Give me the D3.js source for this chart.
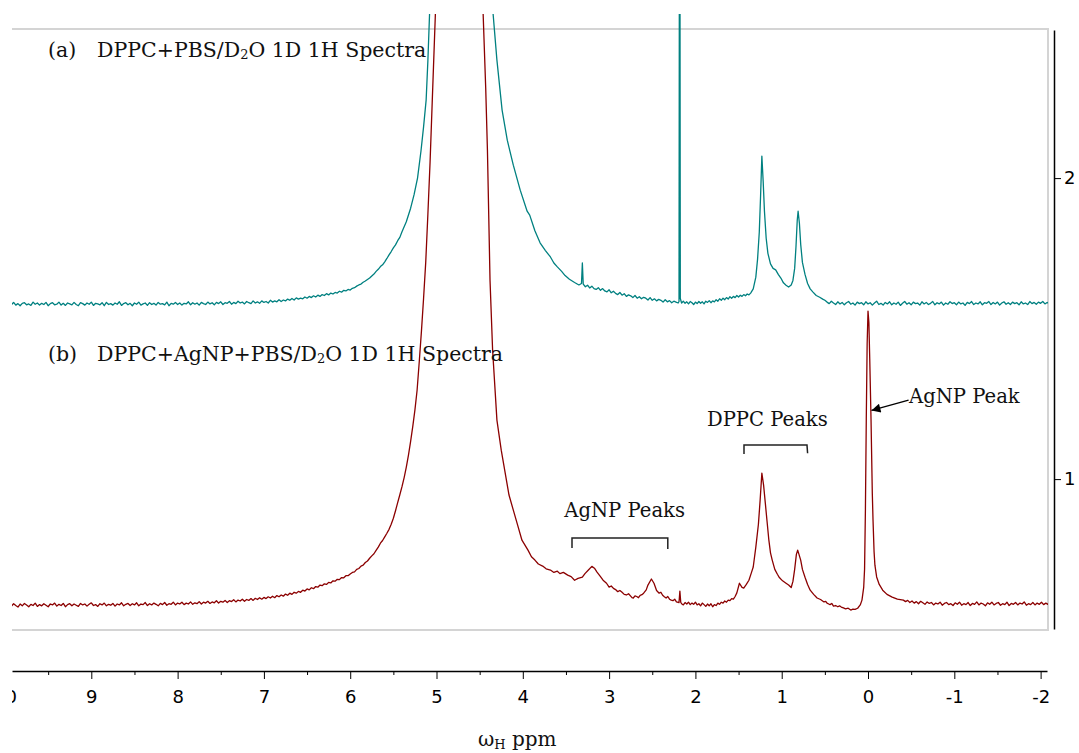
<!DOCTYPE html>
<html><head><meta charset="utf-8">
<script src="https://cdn.jsdelivr.net/npm/d3@7"></script>
<style>body{margin:0;background:#fff;overflow:hidden}</style>
</head><body><svg id="c" width="1079" height="753"></svg>
<script>
// ---- data: [chemical shift (ppm), intensity] ----
const spectrumA = [
[9.950,1.585],[9.925,1.580],[9.900,1.587],[9.875,1.578],[9.850,1.583],[9.825,1.576],[9.800,1.584],[9.775,1.586],[9.750,1.579],[9.725,1.582],
[9.700,1.577],[9.675,1.588],[9.650,1.581],[9.625,1.585],[9.600,1.578],[9.575,1.584],[9.550,1.580],[9.525,1.587],[9.500,1.576],[9.475,1.583],
[9.450,1.586],[9.425,1.579],[9.400,1.581],[9.375,1.588],[9.350,1.578],[9.325,1.584],[9.300,1.577],[9.275,1.585],[9.250,1.582],[9.225,1.579],
[9.200,1.587],[9.175,1.580],[9.150,1.576],[9.125,1.586],[9.100,1.583],[9.075,1.578],[9.050,1.585],[9.025,1.581],[9.000,1.588],[8.975,1.577],
[8.950,1.584],[8.925,1.582],[8.900,1.579],[8.875,1.586],[8.850,1.576],[8.825,1.587],[8.800,1.580],[8.775,1.583],[8.750,1.578],[8.725,1.585],
[8.700,1.581],[8.675,1.589],[8.650,1.577],[8.625,1.583],[8.600,1.586],[8.575,1.579],[8.550,1.584],[8.525,1.576],[8.500,1.585],[8.475,1.581],
[8.450,1.588],[8.425,1.578],[8.400,1.582],[8.375,1.585],[8.350,1.577],[8.325,1.586],[8.300,1.580],[8.275,1.584],[8.250,1.578],[8.225,1.587],
[8.200,1.581],[8.175,1.583],[8.150,1.579],[8.125,1.588],[8.100,1.576],[8.075,1.584],[8.050,1.581],[8.025,1.587],[8.000,1.580],[7.975,1.585],
[7.950,1.578],[7.925,1.584],[7.900,1.582],[7.875,1.589],[7.850,1.579],[7.825,1.586],[7.800,1.581],[7.775,1.585],[7.750,1.578],[7.725,1.587],
[7.700,1.583],[7.675,1.580],[7.650,1.588],[7.625,1.582],[7.600,1.586],[7.575,1.579],[7.550,1.587],[7.525,1.583],[7.500,1.589],[7.475,1.580],
[7.450,1.586],[7.425,1.584],[7.400,1.590],[7.375,1.581],[7.350,1.587],[7.325,1.583],[7.300,1.591],[7.275,1.585],[7.250,1.588],[7.225,1.582],
[7.200,1.590],[7.175,1.586],[7.150,1.583],[7.125,1.592],[7.100,1.585],[7.075,1.589],[7.050,1.584],[7.025,1.592],[7.000,1.587],[6.975,1.590],
[6.950,1.585],[6.925,1.594],[6.900,1.588],[6.875,1.592],[6.850,1.589],[6.825,1.596],[6.800,1.590],[6.775,1.595],[6.750,1.592],[6.725,1.598],
[6.700,1.594],[6.675,1.600],[6.650,1.595],[6.625,1.602],[6.600,1.598],[6.575,1.601],[6.550,1.599],[6.525,1.605],[6.500,1.601],[6.475,1.607],
[6.450,1.603],[6.425,1.609],[6.400,1.605],[6.375,1.611],[6.350,1.607],[6.325,1.613],[6.300,1.610],[6.275,1.616],[6.250,1.612],[6.225,1.618],
[6.200,1.615],[6.175,1.620],[6.150,1.618],[6.125,1.624],[6.100,1.621],[6.075,1.627],[6.050,1.625],[6.025,1.630],[6.000,1.628],[5.975,1.634],
[5.950,1.636],[5.925,1.641],[5.900,1.645],[5.875,1.648],[5.850,1.654],[5.825,1.658],[5.800,1.663],[5.775,1.668],[5.750,1.675],[5.725,1.681],
[5.700,1.690],[5.675,1.697],[5.650,1.706],[5.625,1.712],[5.600,1.722],[5.575,1.733],[5.550,1.745],[5.525,1.756],[5.500,1.768],[5.475,1.778],
[5.450,1.792],[5.425,1.803],[5.400,1.822],[5.35,1.855],[5.30,1.900],[5.26,1.945],[5.22,2.000],[5.18,2.090],[5.15,2.170],[5.12,2.260],
[5.10,2.390],[5.08,2.550],[5.05,2.800],[5.00,3.200],[4.90,3.800],[4.75,4.300],[4.60,3.800],[4.45,3.000],[4.38,2.700],[4.345,2.548],
[4.30,2.392],[4.24,2.226],[4.18,2.126],[4.11,2.043],[4.03,1.960],[3.95,1.890],[3.92,1.877],[3.86,1.825],[3.80,1.785],[3.74,1.760],
[3.68,1.738],[3.64,1.718],[3.60,1.705],[3.55,1.690],[3.51,1.676],[3.46,1.664],[3.40,1.653],[3.35,1.645],[3.32,1.650],[3.31,1.718],
[3.30,1.648],[3.275,1.639],[3.250,1.644],[3.225,1.635],[3.200,1.641],[3.175,1.633],[3.150,1.630],[3.125,1.636],[3.100,1.627],[3.075,1.633],
[3.050,1.625],[3.025,1.622],[3.000,1.629],[2.975,1.619],[2.950,1.624],[2.925,1.617],[2.900,1.613],[2.875,1.620],[2.850,1.611],[2.825,1.616],
[2.800,1.607],[2.775,1.612],[2.750,1.609],[2.725,1.603],[2.700,1.610],[2.675,1.601],[2.650,1.606],[2.625,1.599],[2.600,1.604],[2.575,1.601],
[2.550,1.595],[2.525,1.603],[2.500,1.594],[2.475,1.599],[2.450,1.592],[2.425,1.597],[2.400,1.594],[2.375,1.588],[2.350,1.596],[2.325,1.589],
[2.300,1.593],[2.275,1.586],[2.250,1.591],[2.225,1.588],[2.200,1.585],[2.19,1.590],[2.185,3.000],[2.180,3.000],[2.175,1.600],[2.16,1.585],
[2.14,1.591],[2.12,1.584],[2.10,1.589],[2.08,1.582],[2.06,1.590],[2.04,1.586],[2.02,1.580],[2.00,1.588],[1.98,1.583],[1.96,1.590],
[1.94,1.584],[1.92,1.589],[1.90,1.582],[1.88,1.591],[1.86,1.587],[1.84,1.593],[1.82,1.586],[1.80,1.592],[1.78,1.589],[1.76,1.596],
[1.74,1.591],[1.72,1.599],[1.70,1.594],[1.68,1.601],[1.66,1.596],[1.64,1.603],[1.62,1.598],[1.60,1.606],[1.58,1.601],[1.56,1.607],
[1.54,1.603],[1.52,1.610],[1.50,1.605],[1.48,1.611],[1.46,1.607],[1.44,1.613],[1.42,1.609],[1.40,1.615],[1.38,1.612],[1.36,1.618],
[1.33,1.632],[1.30,1.671],[1.28,1.730],[1.26,1.820],[1.245,1.940],[1.23,2.073],[1.215,1.990],[1.20,1.890],[1.18,1.800],[1.16,1.750],
[1.13,1.715],[1.10,1.700],[1.07,1.695],[1.04,1.680],[1.01,1.668],[0.98,1.652],[0.95,1.644],[0.92,1.638],[0.89,1.645],[0.87,1.660],
[0.85,1.700],[0.835,1.770],[0.82,1.860],[0.81,1.890],[0.795,1.850],[0.78,1.780],[0.76,1.720],[0.73,1.680],[0.70,1.650],[0.67,1.632],
[0.64,1.622],[0.60,1.610],[0.56,1.604],[0.525,1.598],[0.500,1.594],[0.475,1.588],[0.450,1.583],[0.425,1.591],[0.400,1.585],[0.375,1.580],
[0.350,1.589],[0.325,1.582],[0.300,1.587],[0.275,1.579],[0.250,1.586],[0.225,1.590],[0.200,1.581],[0.175,1.585],[0.150,1.578],[0.125,1.588],
[0.100,1.583],[0.075,1.586],[0.050,1.579],[0.025,1.589],[0.000,1.582],[-0.025,1.586],[-0.050,1.578],[-0.075,1.585],[-0.100,1.591],[-0.125,1.580],
[-0.150,1.584],[-0.175,1.578],[-0.200,1.587],[-0.225,1.582],[-0.250,1.589],[-0.275,1.579],[-0.300,1.585],[-0.325,1.581],[-0.350,1.588],[-0.375,1.577],
[-0.400,1.584],[-0.425,1.590],[-0.450,1.581],[-0.475,1.586],[-0.500,1.579],[-0.525,1.588],[-0.550,1.583],[-0.575,1.585],[-0.600,1.578],[-0.625,1.589],
[-0.650,1.582],[-0.675,1.587],[-0.700,1.580],[-0.725,1.584],[-0.750,1.590],[-0.775,1.579],[-0.800,1.586],[-0.825,1.582],[-0.850,1.588],[-0.875,1.578],
[-0.900,1.585],[-0.925,1.581],[-0.950,1.589],[-0.975,1.583],[-1.000,1.586],[-1.025,1.579],[-1.050,1.588],[-1.075,1.582],[-1.100,1.585],[-1.125,1.577],
[-1.150,1.587],[-1.175,1.583],[-1.200,1.590],[-1.225,1.580],[-1.250,1.585],[-1.275,1.582],[-1.300,1.589],[-1.325,1.579],[-1.350,1.586],[-1.375,1.584],
[-1.400,1.590],[-1.425,1.580],[-1.450,1.587],[-1.475,1.582],[-1.500,1.588],[-1.525,1.578],[-1.550,1.585],[-1.575,1.589],[-1.600,1.581],[-1.625,1.586],
[-1.650,1.580],[-1.675,1.588],[-1.700,1.583],[-1.725,1.586],[-1.750,1.579],[-1.775,1.589],[-1.800,1.582],[-1.825,1.585],[-1.850,1.580],[-1.875,1.590],
[-1.900,1.583],[-1.925,1.587],[-1.950,1.581],[-1.975,1.588],[-2.000,1.584],[-2.025,1.590],[-2.050,1.582],[-2.075,1.587],[-2.100,1.583]
];
const spectrumB = [
[9.950,0.584],[9.925,0.578],[9.900,0.586],[9.875,0.580],[9.850,0.575],[9.825,0.585],[9.800,0.579],[9.775,0.587],[9.750,0.582],[9.725,0.576],
[9.700,0.584],[9.675,0.580],[9.650,0.588],[9.625,0.577],[9.600,0.583],[9.575,0.579],[9.550,0.586],[9.525,0.581],[9.500,0.576],[9.475,0.585],
[9.450,0.582],[9.425,0.588],[9.400,0.578],[9.375,0.584],[9.350,0.580],[9.325,0.587],[9.300,0.576],[9.275,0.583],[9.250,0.586],[9.225,0.579],
[9.200,0.585],[9.175,0.581],[9.150,0.577],[9.125,0.587],[9.100,0.582],[9.075,0.585],[9.050,0.578],[9.025,0.584],[9.000,0.589],[8.975,0.580],
[8.950,0.583],[8.925,0.577],[8.900,0.586],[8.875,0.582],[8.850,0.588],[8.825,0.579],[8.800,0.584],[8.775,0.581],[8.750,0.587],[8.725,0.578],
[8.700,0.585],[8.675,0.582],[8.650,0.589],[8.625,0.579],[8.600,0.584],[8.575,0.587],[8.550,0.580],[8.525,0.586],[8.500,0.582],[8.475,0.589],
[8.450,0.579],[8.425,0.585],[8.400,0.583],[8.375,0.590],[8.350,0.580],[8.325,0.586],[8.300,0.582],[8.275,0.588],[8.250,0.584],[8.225,0.579],
[8.200,0.587],[8.175,0.583],[8.150,0.590],[8.125,0.581],[8.100,0.586],[8.075,0.584],[8.050,0.591],[8.025,0.582],[8.000,0.588],[7.975,0.585],
[7.950,0.591],[7.925,0.583],[7.900,0.588],[7.875,0.585],[7.850,0.592],[7.825,0.584],[7.800,0.589],[7.775,0.586],[7.750,0.593],[7.725,0.585],
[7.700,0.591],[7.675,0.588],[7.650,0.594],[7.625,0.587],[7.600,0.592],[7.575,0.589],[7.550,0.596],[7.525,0.588],[7.500,0.594],[7.475,0.591],
[7.450,0.597],[7.425,0.590],[7.400,0.596],[7.375,0.593],[7.350,0.599],[7.325,0.592],[7.300,0.598],[7.275,0.595],[7.250,0.601],[7.225,0.594],
[7.200,0.600],[7.175,0.597],[7.150,0.603],[7.125,0.597],[7.100,0.604],[7.075,0.600],[7.050,0.606],[7.025,0.601],[7.000,0.607],[6.975,0.603],
[6.950,0.609],[6.925,0.605],[6.900,0.611],[6.875,0.606],[6.850,0.613],[6.825,0.609],[6.800,0.615],[6.775,0.611],[6.750,0.618],[6.725,0.614],
[6.700,0.621],[6.675,0.617],[6.650,0.624],[6.625,0.621],[6.600,0.627],[6.575,0.624],[6.550,0.631],[6.525,0.628],[6.500,0.635],[6.475,0.632],
[6.450,0.639],[6.425,0.636],[6.400,0.643],[6.375,0.641],[6.350,0.648],[6.325,0.646],[6.300,0.652],[6.275,0.650],[6.250,0.657],[6.225,0.655],
[6.200,0.662],[6.175,0.661],[6.150,0.667],[6.125,0.666],[6.100,0.673],[6.075,0.672],[6.050,0.679],[6.025,0.679],[6.000,0.685],[5.975,0.690],
[5.950,0.692],[5.925,0.700],[5.900,0.703],[5.875,0.711],[5.850,0.714],[5.825,0.723],[5.800,0.728],[5.775,0.737],[5.750,0.745],[5.725,0.752],
[5.700,0.763],[5.675,0.774],[5.650,0.787],[5.625,0.796],[5.600,0.808],[5.575,0.820],[5.550,0.833],[5.525,0.850],[5.500,0.870],[5.475,0.895],
[5.450,0.922],[5.425,0.948],[5.400,0.975],[5.375,1.005],[5.350,1.040],[5.325,1.080],[5.300,1.125],[5.275,1.175],[5.250,1.230],[5.225,1.295],
[5.200,1.390],[5.175,1.490],[5.150,1.600],[5.125,1.720],[5.100,1.880],[5.075,2.050],[5.050,2.250],[5.025,2.450],[5.000,2.650],[4.95,3.000],
[4.85,4.000],[4.70,5.000],[4.55,4.000],[4.50,3.200],[4.46,2.548],[4.43,2.300],[4.41,2.093],[4.38,1.661],[4.35,1.429],[4.30,1.196],
[4.25,1.096],[4.21,1.030],[4.16,0.947],[4.11,0.897],[4.06,0.847],[4.01,0.797],[3.94,0.764],[3.90,0.742],[3.86,0.731],[3.82,0.718],
[3.77,0.711],[3.73,0.702],[3.68,0.698],[3.64,0.690],[3.60,0.694],[3.57,0.686],[3.53,0.690],[3.48,0.681],[3.44,0.676],[3.40,0.664],
[3.36,0.670],[3.31,0.674],[3.28,0.686],[3.24,0.698],[3.20,0.710],[3.17,0.704],[3.14,0.691],[3.10,0.676],[3.07,0.664],[3.03,0.654],
[3.00,0.641],[2.975,0.645],[2.95,0.637],[2.925,0.633],[2.90,0.626],[2.875,0.630],[2.85,0.624],[2.825,0.617],[2.80,0.615],[2.775,0.619],
[2.75,0.611],[2.735,0.606],[2.72,0.605],[2.70,0.612],[2.68,0.610],[2.66,0.606],[2.64,0.614],[2.62,0.616],[2.60,0.621],[2.57,0.632],
[2.55,0.648],[2.51,0.668],[2.48,0.654],[2.45,0.630],[2.42,0.621],[2.40,0.624],[2.38,0.614],[2.36,0.609],[2.34,0.605],[2.32,0.610],
[2.30,0.601],[2.28,0.598],[2.26,0.596],[2.24,0.601],[2.22,0.592],[2.19,0.590],[2.18,0.628],[2.17,0.591],[2.16,0.586],[2.14,0.582],
[2.12,0.590],[2.10,0.585],[2.08,0.591],[2.06,0.583],[2.04,0.588],[2.02,0.584],[2.00,0.591],[1.98,0.582],[1.96,0.586],[1.94,0.579],
[1.92,0.588],[1.90,0.583],[1.88,0.577],[1.86,0.585],[1.84,0.579],[1.82,0.586],[1.80,0.576],[1.78,0.583],[1.76,0.580],[1.74,0.588],
[1.72,0.584],[1.70,0.591],[1.68,0.588],[1.66,0.595],[1.64,0.591],[1.62,0.598],[1.60,0.596],[1.58,0.603],[1.56,0.601],[1.54,0.610],
[1.52,0.622],[1.49,0.654],[1.46,0.640],[1.44,0.638],[1.41,0.650],[1.38,0.664],[1.35,0.690],[1.33,0.708],[1.30,0.774],[1.27,0.850],
[1.25,0.930],[1.23,1.020],[1.21,0.980],[1.19,0.920],[1.17,0.860],[1.15,0.800],[1.13,0.755],[1.11,0.731],[1.08,0.700],[1.05,0.684],
[1.03,0.674],[0.99,0.662],[0.95,0.654],[0.92,0.648],[0.89,0.640],[0.87,0.660],[0.85,0.700],[0.83,0.750],[0.815,0.764],[0.80,0.750],
[0.78,0.731],[0.76,0.700],[0.73,0.674],[0.70,0.650],[0.67,0.631],[0.63,0.617],[0.59,0.605],[0.55,0.600],[0.53,0.596],[0.51,0.592],
[0.49,0.594],[0.475,0.588],[0.455,0.585],[0.44,0.583],[0.42,0.587],[0.40,0.578],[0.375,0.580],[0.35,0.576],[0.33,0.579],[0.31,0.575],
[0.285,0.572],[0.26,0.569],[0.23,0.571],[0.20,0.565],[0.175,0.568],[0.15,0.567],[0.12,0.571],[0.09,0.582],[0.07,0.598],[0.05,0.640],
[0.04,0.700],[0.03,0.900],[0.02,1.200],[0.01,1.450],[0.00,1.558],[-0.01,1.520],[-0.02,1.400],[-0.035,1.196],[-0.05,0.950],[-0.058,0.864],
[-0.07,0.760],[-0.08,0.714],[-0.10,0.675],[-0.13,0.650],[-0.17,0.631],[-0.22,0.617],[-0.28,0.608],[-0.34,0.601],[-0.410,0.598],[-0.435,0.593],
[-0.460,0.597],[-0.485,0.590],[-0.510,0.595],[-0.535,0.588],[-0.560,0.593],[-0.585,0.586],[-0.610,0.594],[-0.635,0.589],[-0.660,0.584],[-0.685,0.592],
[-0.710,0.587],[-0.735,0.590],[-0.760,0.582],[-0.785,0.588],[-0.810,0.585],[-0.835,0.591],[-0.860,0.581],[-0.885,0.587],[-0.910,0.590],[-0.935,0.583],
[-0.960,0.586],[-0.985,0.580],[-1.010,0.589],[-1.035,0.584],[-1.060,0.591],[-1.085,0.581],[-1.110,0.586],[-1.135,0.583],[-1.160,0.590],[-1.185,0.580],
[-1.210,0.587],[-1.235,0.584],[-1.260,0.592],[-1.285,0.582],[-1.310,0.588],[-1.335,0.585],[-1.360,0.579],[-1.385,0.589],[-1.410,0.584],[-1.435,0.591],
[-1.460,0.582],[-1.485,0.587],[-1.510,0.590],[-1.535,0.581],[-1.560,0.586],[-1.585,0.583],[-1.610,0.591],[-1.635,0.580],[-1.660,0.587],[-1.685,0.584],
[-1.710,0.590],[-1.735,0.582],[-1.760,0.588],[-1.785,0.585],[-1.810,0.592],[-1.835,0.581],[-1.860,0.586],[-1.885,0.583],[-1.910,0.590],[-1.935,0.582],
[-1.960,0.588],[-1.985,0.584],[-2.010,0.591],[-2.035,0.583],[-2.060,0.588],[-2.085,0.584],[-2.100,0.589]
];
const majorTicks = [10,9,8,7,6,5,4,3,2,1,0,-1,-2];
const minorTicks = [9.5,8.5,7.5,6.5,5.5,4.5,3.5,2.5,1.5,0.5,-0.5,-1.5];
const intensityTicks = [1,2];
const labelA = ["(a)", "DPPC+PBS/D", "2", "O 1D 1H Spectra"];
const labelB = ["(b)", "DPPC+AgNP+PBS/D", "2", "O 1D 1H Spectra"];
const axisTitle = ["ω", "H", " ppm"];
// annotations: [ppm, intensity] anchors
const agnpPeaksLabel = {text:"AgNP Peaks", at:[3.52,0.874]};
const agnpBracket = [[3.43,0.771],[3.43,0.804],[2.32,0.804],[2.32,0.768]];
const dppcPeaksLabel = {text:"DPPC Peaks", at:[1.866,1.176]};
const dppcBracket = [[1.437,1.083],[1.437,1.113],[0.707,1.113],[0.70,1.086]];
const agnpPeakLabel = {text:"AgNP Peak", at:[-0.475,1.252]};
const agnpArrow = [[-0.47,1.262],[-0.04,1.228]];

// ---- drawing ----
const svg = d3.select("#c");
const x = d3.scaleLinear().domain([9.919, -2.074]).range([12, 1047]);
const y = d3.scaleLinear().domain([0.502, 2.492]).range([629, 30]);
const serif = "'DejaVu Serif', serif";
const sans = "'DejaVu Sans', sans-serif";
const plainNum = d => String(d);

const defs = svg.append("defs");
defs.append("clipPath").attr("id","plotClip").append("rect")
  .attr("x",12).attr("y",14).attr("width",1036).attr("height",620);
defs.append("clipPath").attr("id","axClip").append("rect")
  .attr("x",12).attr("y",-10).attr("width",1067).attr("height",80);
defs.append("marker").attr("id","arrow").attr("viewBox","0 0 10 10")
  .attr("refX",10).attr("refY",5).attr("markerWidth",14).attr("markerHeight",9)
  .attr("markerUnits","userSpaceOnUse").attr("orient","auto")
  .append("path").attr("d","M0,0 L10,5 L0,10 Z").attr("fill","#000");

// frame
svg.append("path")
  .attr("d", `M12,${y.range()[1]-1}H1048V${y.range()[0]+1}H12`)
  .attr("fill","none").attr("stroke","#d4d4d4").attr("stroke-width",2);

// spectra
const line = d3.line().x(d => x(d[0])).y(d => y(d[1]));
const g = svg.append("g").attr("clip-path","url(#plotClip)");
g.append("path").datum(spectrumA).attr("d",line)
  .attr("fill","none").attr("stroke","#008080").attr("stroke-width",1.3).attr("stroke-linejoin","round");
g.append("path").datum(spectrumB).attr("d",line)
  .attr("fill","none").attr("stroke","#8b0000").attr("stroke-width",1.3).attr("stroke-linejoin","round");

// bottom axis
const axG = svg.append("g").attr("transform","translate(0,671)").attr("clip-path","url(#axClip)");
axG.call(d3.axisBottom(x).tickValues(majorTicks).tickSize(8).tickSizeOuter(0).tickFormat(plainNum));
axG.append("g").call(d3.axisBottom(x).tickValues(minorTicks).tickSize(4).tickFormat(""))
  .select(".domain").remove();
axG.selectAll("text").attr("font-family",sans).attr("font-size",18).attr("fill","#000").attr("y",19);
axG.selectAll("line,path").attr("stroke","#000");
axG.select(".domain").attr("stroke-width",1.5);

// right axis
const ayG = svg.append("g").attr("transform","translate(1054,0)");
ayG.call(d3.axisRight(y).tickValues(intensityTicks).tickSize(7).tickSizeOuter(0).tickFormat(plainNum));
ayG.selectAll("text").attr("font-family",sans).attr("font-size",18).attr("fill","#000").attr("x",10);
ayG.selectAll("line,path").attr("stroke","#000");
ayG.select(".domain").attr("stroke-width",1.5);

// titles
function subLabel(parts, px, py) {
  svg.append("text").attr("x",px).attr("y",py)
    .attr("font-family",serif).attr("font-size",20.5).attr("fill","#111").text(parts[0]);
  const t = svg.append("text").attr("x",px+49).attr("y",py)
    .attr("font-family",serif).attr("font-size",20.5).attr("fill","#111");
  t.append("tspan").text(parts[1]);
  t.append("tspan").attr("font-size",13).attr("dy",2).text(parts[2]);
  t.append("tspan").attr("dy",-2).text(parts[3]);
}
subLabel(labelA, 48, 57);
subLabel(labelB, 48, 361);

const at = svg.append("text").attr("x",478).attr("y",746)
  .attr("font-family",serif).attr("font-size",20).attr("fill","#111");
at.append("tspan").text(axisTitle[0]);
at.append("tspan").attr("font-size",13).attr("dy",3).text(axisTitle[1]);
at.append("tspan").attr("dy",-3).text(axisTitle[2]);

// annotations
[agnpPeaksLabel, dppcPeaksLabel, agnpPeakLabel].forEach(a => {
  svg.append("text").attr("x",x(a.at[0])).attr("y",y(a.at[1]))
    .attr("font-family",serif).attr("font-size",19.6).attr("fill","#111").text(a.text);
});
const bl = d3.line().x(d => x(d[0])).y(d => y(d[1]));
[agnpBracket, dppcBracket].forEach(b => {
  svg.append("path").attr("d",bl(b)).attr("fill","none").attr("stroke","#222").attr("stroke-width",1.5);
});
svg.append("path").attr("d",bl(agnpArrow)).attr("fill","none").attr("stroke","#000")
  .attr("stroke-width",1.3).attr("marker-end","url(#arrow)");
</script></body></html>
